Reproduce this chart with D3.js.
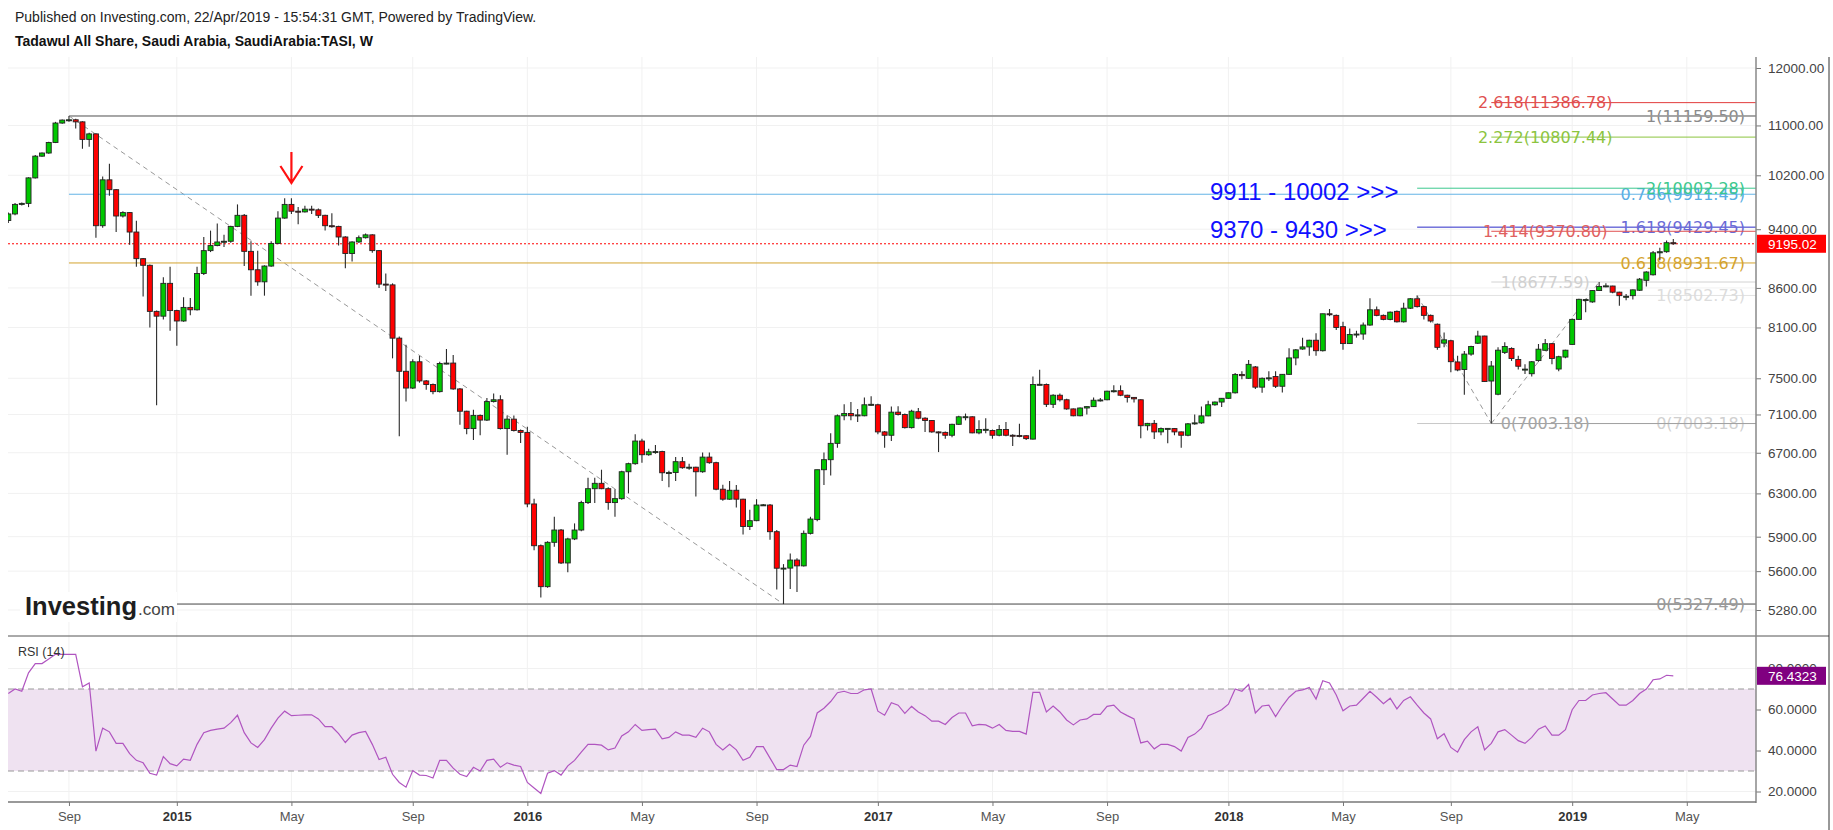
<!DOCTYPE html>
<html><head><meta charset="utf-8">
<script src="https://cdn.jsdelivr.net/npm/d3@7"></script>
<style>
body{margin:0;background:#fff;}
svg{display:block;font-family:"Liberation Sans",Arial,sans-serif;}
</style>
</head><body>
<svg id="c" width="1833" height="830"></svg>
<script>
// ---------------- DATA ----------------
const open=[
9525,9620,9760,9775,10160,10500,10550,10720,11040,11090,
11095,11060,10770,10860,9450,10130,9980,9590,9640,9360,
8990,8900,8300,8240,8660,8310,8180,8350,8320,8790,
9100,9170,9220,9230,9440,9600,9090,8840,8680,8890,
9200,9560,9760,9660,9650,9690,9680,9600,9450,9440,
9290,9060,9220,9280,9320,9100,8650,8640,7970,7580,
7390,7690,7470,7430,7350,7670,7675,7380,7135,6950,
7090,7040,7240,7260,6950,7050,6930,6910,6200,5820,
5470,5850,5960,5670,5880,5960,6213,6345,6397,6345,
6213,6250,6510,6590,6820,6680,6710,6712,6500,6502,
6610,6550,6555,6510,6656,6600,6340,6245,6330,6245,
5992,6045,6190,6190,5945,5625,5626,5695,5645,5930,
6055,6530,6630,6796,7086,7110,7086,7086,7205,7205,
6915,6880,7125,7100,6960,7130,7060,7035,6915,6910,
6880,6995,7075,7075,6905,6940,6930,6880,6940,6880,
6878,6875,6840,7430,7430,7210,7310,7260,7160,7086,
7170,7185,7255,7260,7355,7360,7310,7286,7260,6980,
7005,6915,6950,6950,6915,6880,7000,7010,7085,7205,
7235,7276,7337,7544,7500,7630,7400,7500,7520,7410,
7545,7735,7840,7865,7945,7820,8270,8250,8110,7905,
8015,8020,8130,8320,8250,8200,8300,8170,8340,8460,
8360,8250,8140,7910,7939,7688,7600,7780,7909,7996,
7469,7321,7800,7847,7716,7600,7552,7704,7825,7904,
7606,7745,7895,8200,8445,8420,8566,8625,8625,8545,
8490,8500,8570,8700,8773,9070,9085,9210];
const high=[
9640,9780,9790,10170,10520,10560,10730,11060,11100,11159.5,
11110,11070,10880,10870,10180,10380,9990,9660,9650,9520,
9000,8910,8310,8740,8880,8320,8480,8470,8880,9290,
9380,9480,9320,9450,9760,9620,9230,9100,8900,9230,
9660,9850,9850,9720,9740,9740,9700,9610,9630,9450,
9300,9230,9310,9340,9330,9110,8790,8660,7990,7890,
7720,7760,7480,7440,7690,7840,7770,7390,7140,7150,
7100,7280,7330,7310,7090,7090,6940,6970,6250,5830,
5860,6080,5970,5890,6020,6230,6450,6450,6530,6360,
6340,6520,6600,6891,6844,6740,6780,6720,6520,6656,
6656,6590,6560,6702,6702,6610,6384,6420,6380,6250,
6145,6245,6200,6200,5960,5660,5751,5711,5955,6081,
6530,6702,6900,7100,7210,7235,7160,7286,7300,7215,
6925,7185,7190,7110,7150,7170,7070,7040,6920,6920,
7000,7086,7110,7080,7037,7060,6940,6988,7020,6890,
7000,6880,7520,7597,7440,7320,7330,7270,7165,7175,
7190,7286,7280,7360,7420,7420,7315,7290,7265,7010,
7040,6960,6955,6955,6920,7010,7100,7185,7250,7240,
7280,7340,7560,7580,7710,7640,7510,7580,7580,7550,
7850,7840,7976,7950,8030,8270,8330,8260,8170,8087,
8060,8160,8466,8360,8260,8300,8310,8410,8470,8502.73,
8370,8260,8150,8040,7950,7760,7817,7880,8060,8000,
7700,7860,7920,7860,7760,7660,7700,7900,7960,7910,
7760,7830,8210,8460,8460,8570,8677.59,8660,8630,8550,
8520,8580,8730,8820,9095,9140,9240,9260];
const low=[
9490,9600,9745,9720,10150,10490,10540,10710,11030,11060,
10950,10620,10650,9280,9420,9890,9360,9570,9180,8880,
8490,8100,7200,8200,8060,7880,8170,8250,8310,8770,
9080,9160,9150,9210,9430,8890,8500,8630,8500,8880,
9190,9550,9620,9470,9640,9620,9560,9380,9420,9170,
8860,8950,9210,9270,9070,8600,8560,7730,6870,7240,
7380,7450,7370,7320,7340,7660,7370,6990,6890,6830,
6880,7030,7230,6940,6680,6920,6800,6170,5780,5380,
5460,5810,5660,5590,5870,5950,6200,6208,6340,6145,
6081,6240,6300,6580,6600,6670,6690,6420,6360,6420,
6540,6530,6270,6500,6590,6330,6230,6240,6166,5920,
5960,6040,6180,5873,5446,5327.49,5450,5425,5640,5920,
6039,6380,6474,6750,7037,7037,7020,7080,7195,6891,
6750,6820,7090,6950,6950,7050,6915,6905,6707,6844,
6860,6990,7037,6900,6890,6900,6844,6870,6870,6770,
6860,6830,6835,7420,7180,7170,7240,7150,7080,7080,
7100,7180,7240,7255,7340,7300,7230,7230,6850,6930,
6840,6880,6796,6880,6750,6870,6990,7000,7080,7195,
7180,7270,7330,7490,7495,7380,7338,7470,7390,7340,
7540,7650,7830,7760,7760,7810,8240,8070,7830,7900,
7976,7950,8120,8240,8190,8190,8160,8160,8330,8350,
8200,8160,7830,7860,7570,7579,7316,7760,7900,7460,
7003.18,7310,7780,7700,7600,7550,7520,7690,7820,7660,
7580,7730,7890,8195,8290,8410,8560,8610,8530,8370,
8440,8450,8560,8620,8765,8970,9070,9180];
const close=[
9620,9760,9775,10160,10500,10550,10720,11040,11090,11095,
11060,10770,10860,9450,10130,9980,9590,9640,9360,8990,
8900,8300,8240,8660,8310,8180,8350,8320,8790,9100,
9170,9220,9230,9440,9600,9090,8840,8680,8890,9200,
9560,9760,9660,9650,9690,9680,9600,9450,9440,9290,
9060,9220,9280,9320,9100,8650,8640,7970,7580,7390,
7690,7470,7430,7350,7670,7675,7380,7135,6950,7090,
7040,7240,7260,6950,7050,6930,6910,6200,5820,5470,
5850,5960,5670,5880,5960,6213,6345,6397,6345,6213,
6250,6510,6590,6820,6680,6710,6712,6500,6502,6610,
6550,6555,6510,6656,6600,6340,6245,6330,6245,5992,
6045,6190,6192,5945,5625,5626,5695,5645,5930,6060,
6530,6630,6796,7086,7110,7086,7095,7205,7210,6915,
6880,7125,7100,6960,7135,7060,7035,6915,6910,6880,
6995,7075,7076,6905,6940,6942,6880,6940,6880,6878,
6876,6845,7430,7432,7210,7310,7260,7160,7086,7170,
7185,7255,7258,7355,7360,7310,7286,7270,6980,7005,
6915,6950,6952,6915,6880,7000,7010,7085,7205,7235,
7276,7337,7544,7530,7660,7400,7500,7505,7410,7545,
7735,7830,7865,7945,7820,8270,8265,8100,7905,8015,
8020,8130,8320,8250,8200,8290,8170,8340,8460,8360,
8250,8180,7860,7950,7691,7595,7780,7870,7996,7463,
7641,7826,7870,7728,7638,7605,7690,7838,7904,7728,
7749,7826,8200,8453,8450,8566,8620,8627,8545,8500,
8492,8575,8715,8810,9070,9085,9210,9195.02];
const rsi=[
67.8,70,68.9,77.9,82.4,82.4,84.6,86.9,86.9,86.9,
86.9,71.1,72.9,39.7,50.9,49.1,43.5,43.5,38.5,35.2,
34.0,28.9,28.0,37.0,33.6,32.5,35.8,35.2,43.0,48.7,
49.8,50.4,50.9,53.6,57.2,48.7,43.7,41.5,45.3,50.9,
55.8,59.2,57.0,57.2,57.4,57.4,55.4,51.6,51.6,48.2,
43.9,47.5,48.7,49.3,43.0,35.6,36.7,28.4,24.4,22.1,
30.2,28.0,27.8,26.6,35.2,35.2,31.4,28.4,27.3,31.8,
30.0,35.2,35.8,31.8,34.0,32.9,32.2,24.4,21.7,19.0,
28.9,30.2,28.0,32.5,35.2,39.2,43.0,43.0,42.6,40.3,
41.2,47.1,49.1,52.7,49.8,50.2,50.4,45.7,46.4,49.1,
47.5,47.5,46.4,50.9,49.1,43.0,40.3,43.0,40.3,35.2,
36.7,41.9,41.9,36.3,30.7,30.7,32.9,32.2,42.6,46.9,
58.3,60.6,63.9,68.2,68.9,67.8,67.8,69.6,70.0,59.2,
57.2,63.3,62.1,58.1,61.5,58.8,57.0,54.3,54.3,52.7,
56.1,58.3,58.3,52.0,52.7,52.5,50.9,52.7,49.8,49.3,
49.3,48.0,68.4,68.4,58.8,61.7,58.8,54.9,52.5,54.9,
55.4,57.6,57.6,61.5,62.1,58.8,57.0,55.4,43.7,44.6,
40.8,43.0,43.0,41.9,39.7,46.4,48.0,50.9,57.0,58.3,
59.9,62.6,70.0,68.9,72.2,58.3,61.7,62.1,56.5,61.7,
66.0,68.9,69.6,70.7,65.1,74.0,72.9,67.1,59.4,61.7,
62.1,65.5,68.9,66.0,62.8,65.5,60.3,64.4,66.2,62.1,
58.3,55.4,45.7,48.2,41.5,39.2,45.3,49.1,51.6,40.3,
43.5,49.1,50.2,47.5,44.8,43.5,46.4,50.4,52.0,47.5,
47.5,50.2,59.9,64.4,64.4,67.1,67.8,68.2,65.1,62.1,
62.1,64.4,67.8,70.0,74.5,74.9,76.7,76.4323];

const priceTicks=[12000,11000,10200,9400,8600,8100,7500,7100,6700,6300,5900,5600,5280];
const rsiTicks=[80,60,40,20];
const timeTickBars=[9,25,42,60,77,94,111,129,146,163,181,198,214,232,249];
const timeTickLabels=["Sep","2015","May","Sep","2016","May","Sep","2017","May","Sep","2018","May","Sep","2019","May"];
const lastPrice=9195.02, lastRsi=76.4323;

// Fib retracement drawn from the 2014 high to the 2016 low
const mainFibBars=[9,115];
const mainFibLevels=[1,0.786,0.618,0];
const mainFibPrices=[11159.50,9911.45,8931.67,5327.49];
// Fib extension A (centre labels)
const fibABars=[220,236];
const fibALevels=[2.618,2.272,1.414,1,0];
const fibAPrices=[11386.78,10807.44,9370.80,8677.59,7003.18];
// Fib extension B (right labels)
const fibBBars=[209,220];
const fibBLevels=[2,1.618,1,0];
const fibBPrices=[10002.28,9429.45,8502.73,7003.18];
const zoneTexts=["9911 - 10002 >>>","9370 - 9430 >>>"];
const zonePrices=[9956,9400];

// ---------------- LAYOUT ----------------
const L=8, AX=1756, TOP=57, SEP=636, BOT=802, RB=1829;
const svg=d3.select("#c");
const x=d3.scaleLinear().domain([0,close.length-1]).range([8.3,1673.3]);
const y=d3.scaleLog().domain([5280,12000]).range([610,68]);
const yr=d3.scaleLinear().domain([20,80]).range([791.5,668.5]);

const defs=svg.append("defs");
defs.append("clipPath").attr("id","cm").append("rect").attr("x",L).attr("y",TOP).attr("width",AX-L).attr("height",SEP-TOP);
defs.append("clipPath").attr("id","cr").append("rect").attr("x",L).attr("y",SEP).attr("width",AX-L).attr("height",BOT-SEP);

// header
svg.append("text").attr("x",15).attr("y",22).attr("font-size",14).attr("fill","#222")
  .text("Published on Investing.com, 22/Apr/2019 - 15:54:31 GMT, Powered by TradingView.");
svg.append("text").attr("x",15).attr("y",45.5).attr("font-size",14).attr("font-weight","bold").attr("fill","#111")
  .text("Tadawul All Share, Saudi Arabia, SaudiArabia:TASI, W");

// grid
const grid=svg.append("g").attr("stroke","#f1f1f1").attr("stroke-width",1);
grid.selectAll(".hp").data(priceTicks).join("line").attr("x1",L).attr("x2",AX).attr("y1",d=>y(d)).attr("y2",d=>y(d));
grid.selectAll(".hr").data(rsiTicks).join("line").attr("x1",L).attr("x2",AX).attr("y1",d=>yr(d)).attr("y2",d=>yr(d));
grid.selectAll(".v").data(timeTickBars).join("line").attr("x1",d=>x(d)).attr("x2",d=>x(d)).attr("y1",TOP).attr("y2",BOT);

const main=svg.append("g").attr("clip-path","url(#cm)");
const labelFont='"DejaVu Sans",Verdana,sans-serif';

function fibTool(bars, levels, prices, lineColors, labelColors, align, labelX){
  const g=main.append("g");
  prices.forEach((p,i)=>{
    g.append("line").attr("x1",x(bars[0])).attr("x2",AX).attr("y1",y(p)).attr("y2",y(p))
      .attr("stroke",lineColors[i]).attr("stroke-width",1);
  });
  prices.forEach((p,i)=>{
    g.append("text").attr("x",labelX).attr("y",y(p)).attr("dy","0.36em")
      .attr("text-anchor",align).attr("font-family",labelFont).attr("font-size",16)
      .attr("fill",labelColors[i]).text(`${levels[i]}(${p.toFixed(2)})`);
  });
}
// diagonals
main.append("line").attr("x1",x(mainFibBars[0])).attr("y1",y(mainFibPrices[0]))
  .attr("x2",x(mainFibBars[1])).attr("y2",y(mainFibPrices[3]))
  .attr("stroke","#999").attr("stroke-dasharray","5,4").attr("stroke-width",1);
main.append("line").attr("x1",x(fibBBars[0])).attr("y1",y(fibBPrices[2]))
  .attr("x2",x(fibBBars[1])).attr("y2",y(fibBPrices[3]))
  .attr("stroke","#999").attr("stroke-dasharray","5,4");
main.append("line").attr("x1",x(fibABars[0])).attr("y1",y(fibAPrices[4]))
  .attr("x2",x(fibABars[1])).attr("y2",y(fibAPrices[3]))
  .attr("stroke","#999").attr("stroke-dasharray","5,4");

fibTool(mainFibBars, mainFibLevels, mainFibPrices,
  ["#9a9a9a","#64b4e6","#d4a32e","#9a9a9a"], ["#8a8a8a","#5aaee3","#d4a32e","#999"], "end", 1745);
fibTool(fibBBars, fibBLevels, fibBPrices,
  ["#3cc88e","#2b2bc8","#e2e2e2","#c8c8c8"], ["#3cc88e","#6a6ad6","#dcdcdc","#d0d0d0"], "end", 1745);
fibTool(fibABars, fibALevels, fibAPrices,
  ["#e23c3c","#8cc43f","#e05050","#d2d2d2","#a0a0a0"], ["#e05050","#8cc43f","#e06060","#d0d0d0","#a6a6a6"], "middle", (x(fibABars[0])+x(fibABars[1]))/2);
[mainFibPrices[0],mainFibPrices[3]].forEach(p=>{
  main.append("line").attr("x1",x(mainFibBars[0])).attr("x2",AX).attr("y1",y(p)).attr("y2",y(p))
    .attr("stroke","#9a9a9a").attr("stroke-width",1.6);
});

// last price dotted
main.append("line").attr("x1",L).attr("x2",AX).attr("y1",y(lastPrice)).attr("y2",y(lastPrice))
  .attr("stroke","#ff0000").attr("stroke-dasharray","2,2").attr("stroke-width",1);

// zone texts
zoneTexts.forEach((t,i)=>{
  main.append("text").attr("x",1210).attr("y",y(zonePrices[i])).attr("dy","0.36em")
    .attr("font-size",24).attr("fill","#1010ff").text(t);
});

// candles
const idx=d3.range(close.length);
const cg=main.append("g");
cg.selectAll(".w").data(idx).join("line")
  .attr("x1",i=>x(i)).attr("x2",i=>x(i)).attr("y1",i=>y(high[i])).attr("y2",i=>y(low[i]))
  .attr("stroke","#2a2a2a").attr("stroke-width",1.1);
const bw=5;
cg.selectAll(".b").data(idx).join("rect")
  .attr("x",i=>x(i)-bw/2).attr("width",bw)
  .attr("y",i=>y(Math.max(open[i],close[i])))
  .attr("height",i=>Math.max(1,Math.abs(y(open[i])-y(close[i]))))
  .attr("fill",i=>close[i]>=open[i]?"#00c800":"#ff0000")
  .attr("stroke","#222").attr("stroke-width",0.9);

// arrow
const ax0=x(42);
svg.append("path").attr("d",`M${ax0},152 L${ax0},183 M${ax0-11},166 L${ax0},183 L${ax0+11},166`)
  .attr("fill","none").attr("stroke","#ff1010").attr("stroke-width",2.2);

// logo
svg.append("rect").attr("x",20).attr("y",592).attr("width",157).attr("height",30).attr("fill","#fff");
svg.append("text").attr("x",25).attr("y",615).attr("font-size",25).attr("font-weight","bold").attr("fill","#1e1e1e")
  .attr("textLength",112).attr("lengthAdjust","spacingAndGlyphs").text("Investing");
svg.append("text").attr("x",138).attr("y",615).attr("font-size",17).attr("fill","#444").text(".com");

// RSI panel
const rg=svg.append("g").attr("clip-path","url(#cr)");
rg.append("rect").attr("x",L).attr("width",AX-L).attr("y",yr(70)).attr("height",yr(30)-yr(70)).attr("fill","#efe2f1");
[70,30].forEach(v=>rg.append("line").attr("x1",L).attr("x2",AX).attr("y1",yr(v)).attr("y2",yr(v))
  .attr("stroke","#999").attr("stroke-dasharray","6,4"));
rg.append("path").datum(idx).attr("fill","none").attr("stroke","#b055c0").attr("stroke-width",1.2)
  .attr("d",d3.line().x(i=>x(i)).y(i=>yr(rsi[i])));
svg.append("text").attr("x",18).attr("y",656).attr("font-size",12.5).attr("fill","#333").text("RSI (14)");

// frame lines
svg.append("line").attr("x1",L).attr("x2",RB).attr("y1",SEP).attr("y2",SEP).attr("stroke","#555");
svg.append("line").attr("x1",RB).attr("x2",RB).attr("y1",TOP).attr("y2",830).attr("stroke","#333");

// axes
const pa=svg.append("g").attr("transform",`translate(${AX},0)`)
  .call(d3.axisRight(y).tickValues(priceTicks).tickFormat(d=>d.toFixed(2)).tickSize(5).tickPadding(7).tickSizeOuter(0));
const ra=svg.append("g").attr("transform",`translate(${AX},0)`)
  .call(d3.axisRight(yr).tickValues(rsiTicks).tickFormat(d=>d.toFixed(4)).tickSize(5).tickPadding(7).tickSizeOuter(0));
const ta=svg.append("g").attr("transform",`translate(0,${BOT})`)
  .call(d3.axisBottom(x).tickValues(timeTickBars).tickFormat((d,i)=>timeTickLabels[i]).tickSize(4).tickPadding(6).tickSizeOuter(0));
[pa,ra,ta].forEach(a=>{
  a.select(".domain").remove();
  a.selectAll(".tick line").attr("stroke","#777");
  a.selectAll("text").attr("font-family",'"Liberation Sans",Arial,sans-serif').attr("font-size",13.5).attr("fill","#444");
});
ta.selectAll("text").attr("font-size",13)
  .attr("font-weight",(d,i)=>/^\d{4}$/.test(timeTickLabels[i])?"bold":"normal")
  .attr("fill",(d,i)=>/^\d{4}$/.test(timeTickLabels[i])?"#333":"#555");
svg.append("line").attr("x1",AX).attr("x2",AX).attr("y1",TOP).attr("y2",BOT+1).attr("stroke","#888").attr("stroke-width",1.5);
svg.append("line").attr("x1",L).attr("x2",AX).attr("y1",BOT).attr("y2",BOT).attr("stroke","#777").attr("stroke-width",1.6);

// value boxes
function valBox(yv,txt,col){
  svg.append("rect").attr("x",AX+1).attr("y",yv-9).attr("width",1826-AX-1).attr("height",18).attr("fill",col);
  svg.append("text").attr("x",AX+12).attr("y",yv).attr("dy","0.36em").attr("font-size",13.5).attr("fill","#fff").text(txt);
}
valBox(y(lastPrice),lastPrice.toFixed(2),"#ff0000");
valBox(yr(lastRsi),lastRsi.toFixed(4),"#800080");
</script>
</body></html>
